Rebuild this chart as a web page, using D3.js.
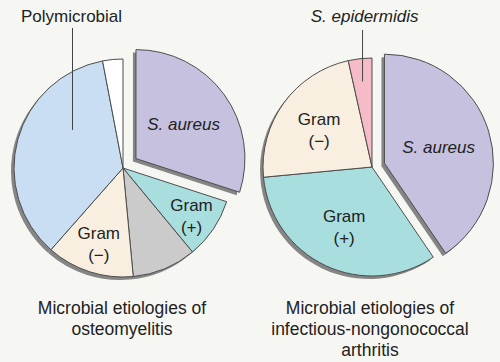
<!DOCTYPE html>
<html>
<head>
<meta charset="utf-8">
<script src="https://cdn.jsdelivr.net/npm/d3@7"></script>
<style>
  html, body { margin: 0; padding: 0; background: #f6f7f3; }
  svg { display: block; font-family: "Liberation Sans", Arial, sans-serif; }
</style>
</head>
<body>
<div id="chart"></div>
<script>
// ---- data ----
const leftCategories = ["S. aureus", "Gram (+)", "Other", "Gram (−)", "Polymicrobial", "Unknown"];
const leftValues = [30, 9, 9.5, 13, 35.5, 3];
const rightCategories = ["S. aureus", "Gram (+)", "Gram (−)", "S. epidermidis"];
const rightValues = [40.5, 33, 23, 3.5];
const leftTitle = ["Microbial etiologies of", "osteomyelitis"];
const rightTitle = ["Microbial etiologies of", "infectious-nongonococcal", "arthritis"];

// ---- layout ----
const width = 500, height = 362;
const radius = 109;
const colors = {
  "S. aureus": "#c6c1df",
  "Gram (+)": "#a9dedf",
  "Other": "#cbcbcb",
  "Gram (−)": "#f9efe0",
  "Polymicrobial": "#c9def2",
  "Unknown": "#ffffff",
  "S. epidermidis": "#f5bcc7"
};

const svg = d3.select("#chart").append("svg")
  .attr("width", width)
  .attr("height", height);

const pie = d3.pie().sort(null).value(d => d.value);
const arc = d3.arc().innerRadius(0).outerRadius(radius);

function drawPie(cx, cy, cats, vals, opts) {
  const data = cats.map((c, i) => ({ name: c, value: vals[i] }));
  const arcs = pie(data);
  const g = svg.append("g").attr("transform", "translate(" + cx + "," + cy + ")");

  const shift = d => {
    if (d.data.name !== opts.exploded) return [0, 0];
    const a = (d.startAngle + d.endAngle) / 2;
    return [Math.sin(a) * opts.explode, -Math.cos(a) * opts.explode];
  };

  // drop shadow, down-left
  g.append("g").attr("class", "shadow")
    .selectAll("path").data(arcs).enter().append("path")
    .attr("d", arc)
    .attr("transform", d => { const s = shift(d); return "translate(" + (s[0] - 3) + "," + (s[1] + 3) + ")"; })
    .attr("fill", "#858585");

  g.append("g").attr("class", "slices")
    .selectAll("path").data(arcs).enter().append("path")
    .attr("d", arc)
    .attr("transform", d => "translate(" + shift(d) + ")")
    .attr("fill", d => colors[d.data.name])
    .attr("stroke", "#4d4d4d")
    .attr("stroke-width", 1)
    .attr("stroke-linejoin", "round");

  // inside labels
  arcs.forEach(d => {
    const lr = opts.labelRadius[d.data.name];
    if (lr === undefined) return;
    const a = (d.startAngle + d.endAngle) / 2;
    const s = shift(d);
    const x = Math.sin(a) * radius * lr + s[0];
    const y = -Math.cos(a) * radius * lr + s[1];
    const t = g.append("text")
      .attr("text-anchor", "middle")
      .attr("fill", "#222")
      .attr("font-size", 17);
    if (d.data.name.startsWith("Gram")) {
      const sign = d.data.name.slice(5);
      t.append("tspan").attr("x", x).attr("y", y - 4).text("Gram");
      t.append("tspan").attr("x", x).attr("y", y + 18).text(sign);
    } else {
      t.attr("x", x).attr("y", y + 6).attr("font-style", "italic").text(d.data.name);
    }
  });

  // callout label above the pie
  const call = arcs.find(d => d.data.name === opts.callout.name);
  const ca = opts.callout.angle !== undefined ? opts.callout.angle * Math.PI / 180 : (call.startAngle + call.endAngle) / 2;
  const px = Math.sin(ca) * radius * opts.callout.r;
  const py = -Math.cos(ca) * radius * opts.callout.r;
  g.append("line")
    .attr("x1", px).attr("y1", py)
    .attr("x2", px).attr("y2", opts.callout.top - cy)
    .attr("stroke", "#444").attr("stroke-width", 1);
  g.append("text")
    .attr("x", px + opts.callout.dx).attr("y", 22 - cy)
    .attr("text-anchor", "middle")
    .attr("fill", "#222")
    .attr("font-size", 17)
    .attr("font-style", opts.callout.italic ? "italic" : "normal")
    .text(opts.callout.name);

  // title below
  const title = svg.append("text")
    .attr("text-anchor", "middle")
    .attr("fill", "#222")
    .attr("font-size", 17.5);
  opts.title.forEach((line, i) => {
    title.append("tspan").attr("x", cx + opts.titleDx).attr("y", 314 + i * 21).text(line);
  });
}

drawPie(123, 168, leftCategories, leftValues, {
  exploded: "S. aureus",
  explode: 16,
  labelRadius: { "S. aureus": 0.54, "Gram (+)": 0.76, "Gram (−)": 0.72 },
  callout: { name: "Polymicrobial", angle: 307, r: 0.58, top: 28, dx: -1, italic: false },
  title: leftTitle,
  titleDx: -1
});

drawPie(372, 167, rightCategories, rightValues, {
  exploded: "S. aureus",
  explode: 13,
  labelRadius: { "S. aureus": 0.52, "Gram (+)": 0.6, "Gram (−)": 0.6 },
  callout: { name: "S. epidermidis", r: 0.79, top: 30, dx: 2, italic: true },
  title: rightTitle,
  titleDx: -2
});
</script>
</body>
</html>
